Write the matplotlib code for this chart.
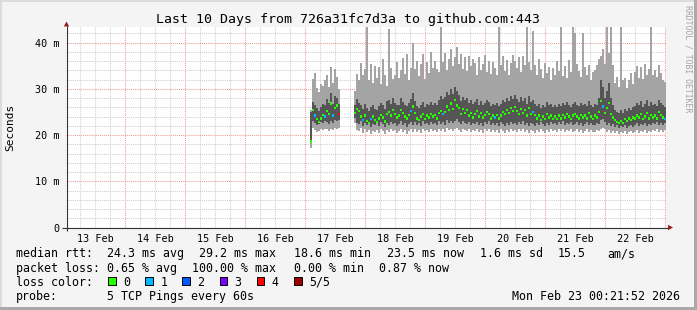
import numpy as np
import matplotlib.pyplot as plt
from matplotlib.patches import Rectangle, Polygon
from matplotlib.ticker import MultipleLocator, FuncFormatter

plt.rcParams['font.family'] = ['DejaVu Sans Mono']

# time axis in hours since 13 Feb 00:00, graph ends 23 Feb 00:21:52
t_start, t_end = 0.364, 240.364
step = 0.8  # one column = 48 min
day_labels = ['13 Feb', '14 Feb', '15 Feb', '16 Feb', '17 Feb',
              '18 Feb', '19 Feb', '20 Feb', '21 Feb', '22 Feb']

# first block of pings (17 Feb, early morning), values in ms
seg1_start = 98.4
seg1_lo = [17.3, 21.5, 21.0, 20.6, 20.8, 21.2, 21.0, 21.4, 21.2, 20.9, 21.3, 21.0, 21.5, 21.2, 21.6]
seg1_q1 = [19.0, 23.0, 22.6, 22.2, 22.4, 22.8, 22.5, 23.0, 22.8, 22.4, 23.0, 22.7, 23.2, 23.0, 23.3]
seg1_med = [18.6, 25.4, 24.2, 23.4, 22.8, 23.6, 24.4, 24.0, 25.2, 24.6, 26.8, 24.2, 25.8, 26.4, 24.6]
seg1_q3 = [25.0, 27.2, 26.4, 25.8, 25.2, 26.0, 26.8, 26.6, 27.8, 27.0, 29.0, 26.8, 28.4, 28.0, 26.8]
seg1_hi = [25.5, 32.2, 33.5, 30.2, 29.4, 31.0, 30.6, 31.8, 33.0, 30.4, 34.8, 31.2, 34.2, 32.6, 30.0]
seg1_loss = [0, 0, 1, 0, 0, 0, 0, 1, 0, 0, 0, 1, 0, 0, 4]

# second block (17 Feb 20:00 until now)
seg2_start = 116.0
seg2_hi = [29.5, 33.2, 31.8, 35.6, 33.0, 34.2, 43.5, 32.0, 35.4, 31.2,
           35.0, 32.4, 34.8, 31.0, 36.4, 33.0, 30.6, 43.0, 34.6, 32.2,
           33.0, 35.8, 32.4, 34.0, 36.6, 33.2, 37.5, 31.8, 34.6, 40.0,
           34.2, 36.0, 32.8, 35.4, 37.6, 32.2, 35.8, 33.4, 38.0, 34.4,
           36.0, 34.2, 33.6, 44.0, 35.8, 37.8, 34.0, 36.4, 38.5, 35.0,
           36.8, 39.0, 35.4, 37.6, 34.2, 36.8, 33.8, 37.2, 35.0, 36.4,
           35.6, 33.0, 36.8, 34.0, 35.4, 37.4, 33.6, 36.0, 33.2, 35.8,
           34.6, 33.0, 44.0, 35.2, 37.0, 33.8, 36.2, 33.0, 35.6, 37.4,
           36.0, 34.4, 36.8, 33.6, 37.0, 35.2, 44.0, 35.8, 34.0, 42.5,
           35.2, 33.0, 36.4, 34.2, 32.4, 35.6, 33.4, 34.8, 32.0, 34.6,
           33.0, 36.0, 33.8, 44.0, 32.8, 35.0, 32.4, 36.2, 33.6, 44.0,
           42.0, 35.4, 33.8, 32.6, 42.0, 34.8, 33.0, 35.2, 32.0, 33.6,
           34.0, 35.2, 36.4, 37.0, 38.6, 35.4, 44.0, 37.8, 44.0, 35.2,
           31.2, 32.6, 30.4, 44.0, 31.8, 32.4, 30.2, 32.0, 33.4, 31.0,
           33.6, 35.0, 32.4, 34.8, 32.2, 35.4, 33.0, 34.2, 44.0, 33.0,
           34.0, 32.6, 35.2, 33.4, 32.0, 31.4]
seg2_q3 = [26.5, 27.8, 27.0, 26.4, 25.6, 26.8, 25.8, 25.2, 26.0, 26.6,
           25.6, 25.4, 26.2, 27.0, 26.4, 25.6, 27.4, 27.6, 26.8, 28.0,
           27.0, 26.4, 26.6, 28.0, 27.2, 26.4, 26.2, 27.0, 27.8, 29.0,
           27.4, 26.2, 25.8, 26.6, 27.2, 26.0, 26.8, 26.4, 27.2, 26.6,
           27.0, 26.4, 27.6, 28.4, 27.8, 28.2, 29.4, 28.6, 30.0, 28.8,
           30.4, 29.6, 28.6, 27.4, 28.2, 27.6, 28.0, 27.0, 27.6, 26.8,
           27.2, 27.8, 26.6, 27.4, 26.4, 27.0, 27.6, 27.2, 26.2, 26.8,
           26.4, 27.0, 26.2, 26.8, 27.6, 27.2, 28.0, 27.4, 28.4, 27.8,
           28.6, 27.8, 27.2, 28.2, 27.4, 28.0, 26.8, 28.4, 27.2, 27.6,
           26.8, 26.2, 26.8, 25.8, 26.6, 26.0, 27.2, 26.4, 26.8, 26.0,
           26.6, 26.0, 26.8, 26.2, 27.0, 26.4, 27.2, 26.6, 26.0, 26.8,
           27.2, 26.6, 26.2, 27.0, 26.4, 26.8, 26.2, 27.4, 26.6, 26.0,
           26.8, 26.4, 28.0, 32.0, 30.4, 28.0, 29.6, 31.2, 28.0, 26.4,
           25.4, 25.0, 24.8, 25.4, 24.8, 25.6, 25.2, 25.8, 25.4, 26.0,
           26.2, 27.0, 26.4, 27.4, 26.0, 26.8, 27.6, 26.2, 27.2, 26.6,
           26.8, 26.2, 27.6, 27.0, 26.4, 26.0]
seg2_med = [24.8, 25.6, 25.2, 24.0, 23.2, 24.2, 23.0, 22.6, 23.4, 24.0,
            23.2, 22.8, 23.6, 24.4, 23.8, 22.9, 24.6, 25.0, 24.2, 25.4,
            24.6, 23.8, 24.2, 25.4, 24.8, 24.0, 23.6, 24.4, 25.2, 26.2,
            24.8, 23.6, 23.2, 24.0, 24.6, 23.4, 24.2, 23.8, 24.6, 24.0,
            24.4, 23.6, 24.8, 25.2, 24.6, 25.0, 26.2, 25.4, 26.8, 25.6,
            27.6, 26.4, 25.8, 24.6, 25.6, 24.8, 25.4, 24.2, 24.8, 23.8,
            24.6, 25.2, 24.0, 24.8, 23.8, 24.4, 25.0, 24.6, 23.6, 24.2,
            23.8, 24.4, 23.6, 24.2, 25.0, 24.6, 25.4, 24.8, 25.8, 25.2,
            26.0, 25.2, 24.6, 25.6, 24.8, 25.4, 24.2, 25.8, 24.6, 25.0,
            24.4, 23.6, 24.2, 23.2, 24.0, 23.4, 24.6, 23.8, 24.2, 23.4,
            24.0, 23.4, 24.2, 23.6, 24.4, 23.8, 24.6, 24.0, 23.4, 24.2,
            24.6, 24.0, 23.6, 24.4, 23.8, 24.2, 23.6, 24.8, 24.0, 23.4,
            24.2, 23.8, 25.0, 27.4, 26.2, 24.8, 25.8, 27.0, 24.6, 23.8,
            23.2, 22.8, 22.6, 23.0, 22.6, 23.4, 23.0, 23.6, 23.2, 23.8,
            23.6, 24.2, 23.8, 24.6, 23.4, 24.0, 24.8, 23.6, 24.4, 23.8,
            24.2, 23.6, 25.0, 24.4, 23.8, 23.5]
seg2_q1 = [23.6, 22.6, 22.4, 23.0, 22.0, 22.6, 22.2, 22.5, 21.8, 22.4,
           22.2, 22.6, 22.0, 22.8, 22.4, 21.8, 22.6, 22.2, 22.8, 22.4,
           22.6, 22.0, 22.4, 23.0, 22.2, 22.6, 21.8, 22.4, 22.8, 22.2,
           22.8, 22.2, 22.6, 22.0, 23.0, 22.4, 22.6, 22.2, 22.8, 22.4,
           22.6, 22.2, 23.0, 22.4, 22.8, 22.2, 23.2, 22.6, 23.0, 22.6,
           23.0, 23.4, 22.8, 22.4, 23.0, 22.6, 22.4, 22.8, 22.2, 22.6,
           22.4, 22.8, 22.2, 22.6, 22.0, 22.8, 22.4, 23.0, 22.2, 22.6,
           22.2, 22.6, 22.0, 22.8, 22.4, 22.0, 22.6, 22.2, 22.8, 22.4,
           22.6, 22.2, 22.8, 22.4, 23.0, 22.2, 22.6, 22.0, 22.6, 22.4,
           22.0, 22.6, 22.2, 22.8, 22.4, 22.0, 22.6, 22.2, 22.8, 22.4,
           22.6, 22.2, 22.8, 22.4, 23.0, 22.2, 22.6, 22.4, 22.8, 22.2,
           22.4, 22.8, 22.2, 22.6, 22.0, 22.4, 22.8, 22.2, 22.6, 22.2,
           22.2, 22.6, 22.4, 23.2, 23.4, 22.8, 22.2, 22.6, 22.0, 22.4,
           21.8, 22.2, 21.6, 22.0, 21.8, 22.2, 21.6, 22.0, 22.2, 21.8,
           22.2, 22.6, 22.0, 22.4, 22.2, 22.6, 22.0, 22.4, 22.2, 22.6,
           22.4, 22.8, 22.2, 22.6, 22.2, 22.6]
seg2_lo = [22.5, 21.0, 20.8, 21.5, 20.4, 21.2, 20.6, 21.0, 20.2, 20.8,
           20.6, 21.0, 20.4, 21.2, 20.8, 20.2, 21.0, 20.6, 21.2, 20.8,
           21.0, 20.4, 20.8, 21.4, 20.6, 21.0, 20.2, 20.8, 21.2, 20.6,
           21.2, 20.6, 21.0, 20.4, 21.4, 20.8, 21.0, 20.6, 21.2, 20.8,
           21.0, 20.6, 21.4, 20.8, 21.2, 20.6, 21.6, 21.0, 21.4, 20.8,
           21.2, 21.6, 21.0, 20.6, 21.4, 21.0, 20.8, 21.2, 20.6, 21.0,
           20.8, 21.2, 20.6, 21.0, 20.4, 21.2, 20.8, 21.4, 20.6, 21.0,
           20.6, 21.0, 20.4, 21.2, 20.8, 20.4, 21.0, 20.6, 21.2, 20.8,
           21.0, 20.6, 21.2, 20.8, 21.4, 20.6, 21.0, 20.4, 21.0, 20.8,
           20.4, 21.0, 20.6, 21.2, 20.8, 20.4, 21.0, 20.6, 21.2, 20.8,
           21.0, 20.6, 21.2, 20.8, 21.4, 20.6, 21.0, 20.8, 21.2, 20.6,
           20.8, 21.2, 20.6, 21.0, 20.4, 20.8, 21.2, 20.6, 21.0, 20.6,
           20.6, 21.0, 20.8, 21.4, 21.6, 21.2, 20.6, 21.0, 20.4, 20.8,
           20.4, 20.8, 20.2, 20.6, 20.4, 20.8, 20.2, 20.6, 20.8, 20.4,
           20.6, 21.0, 20.4, 20.8, 20.6, 21.0, 20.4, 20.8, 20.6, 21.0,
           20.8, 21.2, 20.6, 21.0, 20.6, 21.0]
# columns of the second block that lost pings (index: lost pings of 5)
seg2_loss_at = {4: 1, 8: 1, 28: 1, 44: 1, 70: 1, 89: 1, 124: 1, 155: 1}

loss_colors = ['#26ff00', '#00b8ff', '#0059ff', '#7e00ff', '#ff0000', '#a10000']
loss_labels = ['0', '1', '2', '3', '4', '5/5']

legend_rows = [
    [('median rtt:', 16), ('24.3 ms avg', 107), ('29.2 ms max', 199), ('18.6 ms min', 293.5),
     ('23.5 ms now', 387), ('1.6 ms sd', 480), ('15.5', 558), ('am/s', 607)],
    [('packet loss:', 16), ('0.65 % avg', 107), ('100.00 % max', 192),
     ('0.00 % min', 293.5), ('0.87 % now', 379)],
]

W, H = 697, 310
fig = plt.figure(figsize=(W / 100, H / 100), dpi=100, facecolor='#f4f4f4')

# plot area in pixels: x 66..666, y 27.3..227.5
ax = fig.add_axes([66 / W, (H - 227.5) / H, 600 / W, 200.2 / H])
ax.set_facecolor('white')
ax.set_xlim(t_start, t_end)
ax.set_ylim(0, 43.3)

ax.xaxis.set_major_locator(MultipleLocator(24))
ax.xaxis.set_minor_locator(MultipleLocator(6))
ax.yaxis.set_major_locator(MultipleLocator(10))
ax.yaxis.set_minor_locator(MultipleLocator(2))
ax.set_axisbelow(True)
ax.grid(which='minor', color='#cfcfcf', linestyle=(0, (1, 1)), linewidth=0.75)
ax.grid(which='major', color='#f09a9a', linestyle=(0, (1, 1)), linewidth=0.75)
ax.tick_params(which='both', length=0)
ax.tick_params(axis='x', labelbottom=False)
ax.tick_params(axis='y', pad=4.5, labelsize=7.3)
ax.yaxis.set_major_formatter(FuncFormatter(lambda v, p: '0' if v == 0 else '%d m' % v))
for s in ax.spines.values():
    s.set_visible(False)

light, dark = '#a4a4a4', '#555555'
blocks = [
    (seg1_start, seg1_lo, seg1_q1, seg1_med, seg1_q3, seg1_hi, seg1_loss),
    (seg2_start, seg2_lo, seg2_q1, seg2_med, seg2_q3, seg2_hi,
     [seg2_loss_at.get(i, 0) for i in range(len(seg2_med))]),
]
for start, lo, q1, med, q3, hi, loss in blocks:
    lo, q1, med, q3, hi = map(np.array, (lo, q1, med, q3, hi))
    t = start + step * np.arange(len(med))
    ax.bar(t, hi - lo, bottom=lo, width=step, color=light, linewidth=0)
    ax.bar(t, q3 - q1, bottom=q1, width=step, color=dark, linewidth=0)
    ax.bar(t, 0.5, bottom=med - 0.25, width=step, linewidth=0,
           color=[loss_colors[l] for l in loss])

# day labels at noon
for i, lab in enumerate(day_labels):
    ax.text(12 + 24 * i, -3.1, lab, ha='center', va='baseline', fontsize=7.3,
            clip_on=False)

# decoration layer in pixel coordinates
deco = fig.add_axes([0, 0, 1, 1], zorder=3)
deco.set_xlim(0, W)
deco.set_ylim(H, 0)
deco.axis('off')
deco.patch.set_alpha(0)

# frame shading
deco.add_patch(Rectangle((0, 0), W, 2, color='#dcdcdc', lw=0))
deco.add_patch(Rectangle((0, 0), 2, H, color='#dcdcdc', lw=0))
deco.add_patch(Rectangle((0, H - 3), W, 3, color='#a9a9a9', lw=0))
deco.add_patch(Rectangle((W - 3, 0), 3, H, color='#a9a9a9', lw=0))

# axes with arrows
axis_col, arrow_col = '#333333', '#9b1c1c'
deco.plot([66.5, 66.5], [231, 26], color=axis_col, lw=0.8, solid_capstyle='butt')
deco.plot([62, 668], [227.5, 227.5], color=axis_col, lw=0.8, solid_capstyle='butt')
deco.add_patch(Polygon([(63.8, 26.5), (69.2, 26.5), (66.5, 21.5)], color=arrow_col, lw=0))
deco.add_patch(Polygon([(668, 224.8), (668, 230.2), (673, 227.5)], color=arrow_col, lw=0))

deco.text(348.5, 23.3, 'Last 10 Days from 726a31fc7d3a to github.com:443',
          ha='center', va='baseline', fontsize=9.5)
deco.text(10, 127, 'Seconds', rotation=90, ha='center', va='center', fontsize=8)
deco.text(688, 59, 'RRDTOOL / TOBI OETIKER', rotation=270, ha='center', va='center',
          fontsize=5.9, color='#a4a4a4')

fs = 8.4
for row, base in zip(legend_rows, [257.3, 271.7]):
    for txt, x in row:
        deco.text(x, base, txt, ha='left', va='baseline', fontsize=fs)

deco.text(16, 285.7, 'loss color:', ha='left', va='baseline', fontsize=fs)
for i, (c, lab) in enumerate(zip(loss_colors, loss_labels)):
    x = 108 + 37.2 * i
    deco.add_patch(Rectangle((x, 277.3), 7.6, 7.6, facecolor=c, edgecolor='black', lw=0.7))
    deco.text(x + 15, 285.7, lab, ha='left', va='baseline', fontsize=fs)

deco.text(16, 300, 'probe:', ha='left', va='baseline', fontsize=fs)
deco.text(107, 300, '5 TCP Pings every 60s', ha='left', va='baseline', fontsize=fs)
deco.text(680, 300, 'Mon Feb 23 00:21:52 2026', ha='right', va='baseline', fontsize=fs)

fig.savefig('out.png', dpi=100, facecolor=fig.get_facecolor())
